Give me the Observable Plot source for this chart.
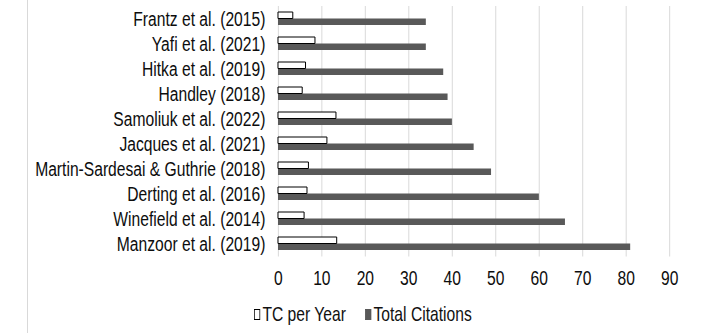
<!DOCTYPE html>
<html>
<head>
<meta charset="utf-8">
<script src="https://cdn.jsdelivr.net/npm/d3@7"></script>
<script src="https://cdn.jsdelivr.net/npm/@observablehq/plot@0.6"></script>
<style>
  html, body { margin: 0; padding: 0; background: #fff; }
  #wrap { position: relative; width: 706px; height: 333px; overflow: hidden; font-family: "Liberation Sans", Arial, sans-serif; }
  #main { position: absolute; left: 0; top: 0; }
  #deco { position: absolute; left: 0; top: 0; }
  #legend { position: absolute; left: 0; top: 295px; width: 706px; height: 38px; display: flex; justify-content: center; align-items: center; }
  #legend .inner { display: flex; align-items: center; color: #111; transform-origin: center; margin-left: 20px; white-space: nowrap; }
  #legend .sw { display: inline-block; width: 8px; height: 11px; margin-right: 3px; box-sizing: border-box; }
</style>
</head>
<body>
<div id="wrap">
  <div id="deco"></div>
  <div id="main"></div>
  <div id="legend"></div>
</div>
<script>
const names = [
  "Frantz et al. (2015)",
  "Yafi et al. (2021)",
  "Hitka et al. (2019)",
  "Handley (2018)",
  "Samoliuk et al. (2022)",
  "Jacques et al. (2021)",
  "Martin-Sardesai & Guthrie (2018)",
  "Derting et al. (2016)",
  "Winefield et al. (2014)",
  "Manzoor et al. (2019)"
];
const tcPerYear = [3.4, 8.5, 6.33, 5.57, 13.33, 11.25, 7.0, 6.67, 6.0, 13.5];
const totalCitations = [34, 34, 38, 39, 40, 45, 49, 60, 66, 81];
const xTicks = [0, 10, 20, 30, 40, 50, 60, 70, 80, 90];
const seriesNames = ["TC per Year", "Total Citations"];
const seriesFill = ["#ffffff", "#595959"];
const seriesStroke = ["#000000", "#595959"];

const rows = names.map((n, i) => ({name: n, tc: tcPerYear[i], total: totalCitations[i]}));

const FS = 21;                // font size (vertical)
const S = 0.745;              // horizontal compression of the picture
const W = 706 / S;            // virtual width
const H = 295;

const chart = Plot.plot({
  width: W,
  height: H,
  marginLeft: 278 / S,
  marginRight: W - 669.3 / S,
  marginTop: 6,
  marginBottom: H - 256.5,
  style: {fontFamily: '"Liberation Sans", Arial, sans-serif', fontSize: FS + "px", color: "#0d0d0d", background: "transparent"},
  x: {domain: [0, 90]},
  y: {domain: names, paddingInner: 0.48, paddingOuter: 0.24},
  marks: [
    Plot.gridX(xTicks, {stroke: "#d9d9d9", strokeOpacity: 1, strokeWidth: 1}),
    Plot.barX(rows, {y: "name", x: "total", fill: seriesFill[1], insetTop: 6.5}),
    Plot.barX(rows, {y: "name", x: "tc", fill: seriesFill[0], stroke: seriesStroke[0], strokeWidth: 1, insetBottom: 6.5}),
    Plot.axisX(xTicks, {tickSize: 0, tickPadding: 13, fontSize: FS, label: null}),
    Plot.axisY({tickSize: 0, tickPadding: 13 / S, fontSize: FS, label: null})
  ]
});
chart.setAttribute("width", 706);
chart.setAttribute("height", H);
chart.setAttribute("preserveAspectRatio", "none");
chart.style.maxWidth = "none";
chart.style.width = "706px";
chart.style.height = H + "px";
chart.querySelectorAll("rect, line, path").forEach(e => e.setAttribute("vector-effect", "non-scaling-stroke"));
document.getElementById("main").appendChild(chart);

// faint left decoration line with small ticks
const decoTicks = d3.range(0, 16);
const deco = Plot.plot({
  width: 30,
  height: 333,
  marginLeft: 26,
  marginRight: 3,
  marginTop: 0,
  marginBottom: 0,
  x: {domain: [0, 1], axis: null},
  y: {domain: [0, 15], range: [3.2, 316], axis: null},
  marks: [
    Plot.ruleX([0], {stroke: "#d9d9d9"}),
    Plot.tickY(decoTicks, {y: d => d, x: 0, dx: -2, stroke: "#d9d9d9"})
  ]
});
document.getElementById("deco").appendChild(deco);

// legend
const leg = document.createElement("div");
leg.className = "inner";
leg.style.fontSize = FS + "px";
leg.style.transform = "scaleX(" + S + ")";
seriesNames.forEach((s, i) => {
  const item = document.createElement("span");
  item.style.display = "inline-flex";
  item.style.alignItems = "center";
  if (i > 0) item.style.marginLeft = "26px";
  const sw = document.createElement("span");
  sw.className = "sw";
  sw.style.background = seriesFill[i];
  sw.style.border = "1px solid " + seriesStroke[i];
  item.appendChild(sw);
  item.appendChild(document.createTextNode(s));
  leg.appendChild(item);
});
document.getElementById("legend").appendChild(leg);
</script>
</body>
</html>
